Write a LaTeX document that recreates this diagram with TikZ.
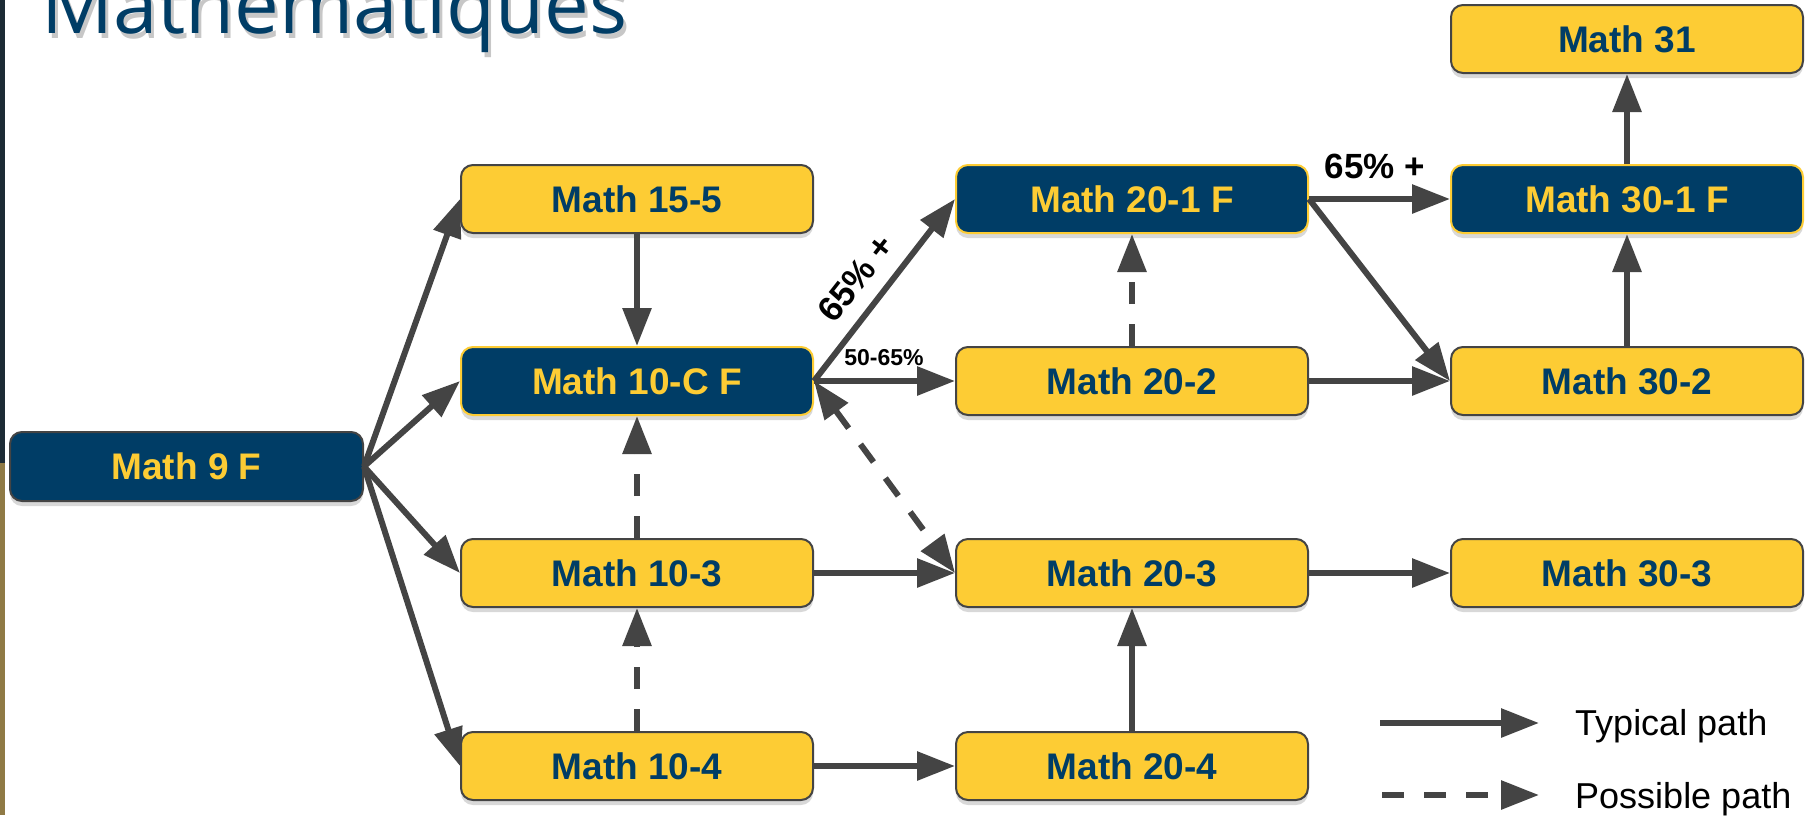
\documentclass[tikz,border=0pt]{standalone}
\usepackage{graphicx}
\usepackage{fontspec}
\setmainfont{Liberation Sans}
\newfontfamily\titlefont{Open Sans}
\usetikzlibrary{arrows.meta,shadows}
\definecolor{navy}{HTML}{003D66}
\definecolor{gold}{HTML}{FDCC34}
\definecolor{arrowgray}{HTML}{444444}
\definecolor{stripdark}{HTML}{1C2B35}
\definecolor{stripgold}{HTML}{8F7A45}
\begin{document}
\begin{tikzpicture}[x=1pt,y=-1pt,
  box/.style={rounded corners=12pt, minimum width=352pt, minimum height=68pt, line width=2pt,
    font=\fontsize{37}{44}\selectfont\bfseries, inner sep=0pt,
    drop shadow={shadow xshift=0pt, shadow yshift=-5pt, opacity=0.3}},
  ybox/.style={box, fill=gold, draw=arrowgray, text=navy},
  nbox/.style={box, fill=navy, draw=gold, text=gold},
  conn/.style={draw=arrowgray, line width=6pt, -{Triangle[length=38pt,width=28pt]}},
  dconn/.style={conn, dash pattern=on 22pt off 20pt},
  ddconn/.style={dconn, {Triangle[length=38pt,width=28pt]}-{Triangle[length=38pt,width=28pt]}},
  lbl/.style={font=\fontsize{35}{40}\selectfont\bfseries, text=black, inner sep=0pt},
  leg/.style={font=\fontsize{36}{40}\selectfont, text=black, inner sep=0pt, anchor=base west},
]
\useasboundingbox (0,0) rectangle (1818,815);
\clip (0,0) rectangle (1818,815);
\fill[white] (0,0) rectangle (1818,815);
\fill[stripdark] (0,0) rectangle (5,463);
\fill[stripgold] (0,463) rectangle (5,815);

% title
\node[anchor=base west, inner sep=0pt, text=black, opacity=0.22] (titleshadow) at (44,38)
  {\resizebox{586pt}{!}{\titlefont Mathématiques}};
\node[anchor=base west, inner sep=0pt, text=navy] (title) at (41,33)
  {\resizebox{586pt}{!}{\titlefont Mathématiques}};

% nodes
\node[nbox, draw=arrowgray, minimum width=353pt, minimum height=69pt] (m9) at (186.5,466.5) {Math 9 F};
\node[ybox] (m155) at (637,199) {Math 15-5};
\node[nbox] (m10c) at (637,381) {Math 10-C F};
\node[ybox] (m103) at (637,573) {Math 10-3};
\node[ybox] (m104) at (637,766) {Math 10-4};
\node[nbox] (m201) at (1132,199) {Math 20-1 F};
\node[ybox] (m202) at (1132,381) {Math 20-2};
\node[ybox] (m203) at (1132,573) {Math 20-3};
\node[ybox] (m204) at (1132,766) {Math 20-4};
\node[ybox] (m31) at (1627,39) {Math 31};
\node[nbox] (m301) at (1627,199) {Math 30-1 F};
\node[ybox] (m302) at (1627,381) {Math 30-2};
\node[ybox] (m303) at (1627,573) {Math 30-3};

% connectors
\draw[conn] (m9.east) -- (m155.west);
\draw[conn] (m9.east) -- (m10c.west);
\draw[conn] (m9.east) -- (m103.west);
\draw[conn] (m9.east) -- (m104.west);
\draw[conn] (m155.south) -- (m10c.north);
\draw[dconn] (m103.north) -- (m10c.south);
\draw[dconn] (m104.north) -- (m103.south);
\draw[conn] (m10c.east) -- (m201.west);
\draw[conn] (m10c.east) -- (m202.west);
\draw[ddconn] (m10c.east) -- (m203.west);
\draw[conn] (m103.east) -- (m203.west);
\draw[conn] (m104.east) -- (m204.west);
\draw[conn] (m204.north) -- (m203.south);
\draw[dconn] (m202.north) -- (m201.south);
\draw[conn] (m201.east) -- (m301.west);
\draw[conn] (m201.east) -- (m302.west);
\draw[conn] (m202.east) -- (m302.west);
\draw[conn] (m203.east) -- (m303.west);
\draw[conn] (m302.north) -- (m301.south);
\draw[conn] (m301.north) -- (m31.south);

% labels
\node[lbl] (l1) at (1375,166) {65\% +};
\node[lbl, rotate=51.8] (l2) at (856,278) {65\% +};
\node[font=\fontsize{23}{28}\selectfont\bfseries, text=black, inner sep=0pt] (l3) at (884,358) {50-65\%};

% legend
\coordinate (ls1) at (1380,723);
\coordinate (le1) at (1539,723);
\draw[conn] (ls1) -- (le1);
\coordinate (ls2) at (1382,795);
\coordinate (le2) at (1539,795);
\draw[dconn] (ls2) -- (le2);
\node[leg] (t1) at (1575,735) {Typical path};
\node[leg] (t2) at (1575,808) {Possible path};
\end{tikzpicture}
\end{document}
